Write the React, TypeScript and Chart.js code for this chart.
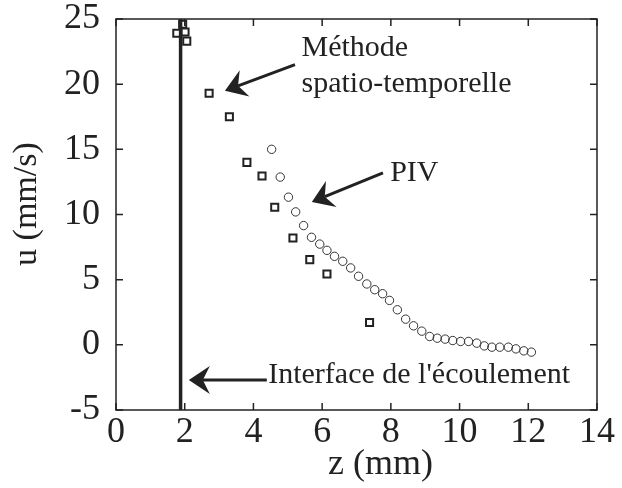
import React, { useEffect, useRef } from "react";
import { Chart, registerables } from "chart.js";

Chart.register(...registerables);

// Spatio-temporal method (squares)
const squaresZ = [1.77, 1.94, 2.01, 2.06, 2.71, 3.3, 3.81, 4.25, 4.62, 5.15, 5.64, 6.14, 7.38];
const squaresU = [23.9, 24.6, 24.0, 23.3, 19.3, 17.5, 14.0, 12.95, 10.56, 8.2, 6.54, 5.44, 1.72];

// PIV (circles)
const circlesZ = [4.53, 4.78, 5.02, 5.23, 5.46, 5.69, 5.93, 6.14, 6.36, 6.6, 6.83, 7.06, 7.3, 7.53, 7.76, 7.96, 8.19, 8.43, 8.66, 8.9, 9.13, 9.35, 9.58, 9.8, 10.03, 10.26, 10.5, 10.72, 10.94, 11.17, 11.42, 11.64, 11.87, 12.09];
const circlesU = [15.0, 12.87, 11.33, 10.2, 9.15, 8.25, 7.73, 7.25, 6.79, 6.41, 5.9, 5.26, 4.67, 4.23, 3.92, 3.41, 2.69, 1.97, 1.46, 1.05, 0.64, 0.51, 0.44, 0.33, 0.26, 0.26, 0.13, -0.08, -0.18, -0.18, -0.18, -0.31, -0.46, -0.56];

// Interface position
const interfaceZ = 1.88;

// Axis ranges / ticks
const xTicks = [0, 2, 4, 6, 8, 10, 12, 14];
const yTicks = [-5, 0, 5, 10, 15, 20, 25];

// Annotations (data coordinates)
const arrows = [
  { from: [5.21, 21.5], to: [3.17, 19.5] },
  { from: [7.77, 13.2], to: [5.7, 10.96] },
  { from: [4.39, -2.7], to: [2.12, -2.7] },
];
const labels = [
  { text: "Méthode", at: [5.4, 22.13] },
  { text: "spatio-temporelle", at: [5.4, 19.4] },
  { text: "PIV", at: [7.98, 12.6] },
  { text: "Interface de l'écoulement", at: [4.43, -2.95] },
];

const SERIF = "'Liberation Serif', 'Times New Roman', serif";
const INK = "#222";

function drawArrow(ctx: CanvasRenderingContext2D, x1: number, y1: number, x2: number, y2: number) {
  const dx = x2 - x1, dy = y2 - y1;
  const len = Math.hypot(dx, dy);
  const ux = dx / len, uy = dy / len;
  const px = -uy, py = ux;
  const L = 21, W = 14, N = 14;
  ctx.save();
  ctx.strokeStyle = INK;
  ctx.fillStyle = INK;
  ctx.lineWidth = 3;
  ctx.beginPath();
  ctx.moveTo(x1, y1);
  ctx.lineTo(x2 - ux * N, y2 - uy * N);
  ctx.stroke();
  ctx.beginPath();
  ctx.moveTo(x2, y2);
  ctx.lineTo(x2 - ux * L + px * W, y2 - uy * L + py * W);
  ctx.lineTo(x2 - ux * N, y2 - uy * N);
  ctx.lineTo(x2 - ux * L - px * W, y2 - uy * L - py * W);
  ctx.closePath();
  ctx.fill();
  ctx.restore();
}

const framePlugin = {
  id: "frame",
  afterDraw(chart: any) {
    const { ctx, chartArea, scales } = chart;
    const { left, right, top, bottom } = chartArea;
    const xs = scales.x, ys = scales.y;
    ctx.save();
    ctx.strokeStyle = INK;
    ctx.lineWidth = 1.5;
    ctx.strokeRect(left, top, right - left, bottom - top);
    const T = 7;
    ctx.beginPath();
    xTicks.forEach((v) => {
      const p = xs.getPixelForValue(v);
      ctx.moveTo(p, bottom);
      ctx.lineTo(p, bottom - T);
      ctx.moveTo(p, top);
      ctx.lineTo(p, top + T);
    });
    yTicks.forEach((v) => {
      const p = ys.getPixelForValue(v);
      ctx.moveTo(left, p);
      ctx.lineTo(left + T, p);
      ctx.moveTo(right, p);
      ctx.lineTo(right - T, p);
    });
    ctx.stroke();

    arrows.forEach((a) => {
      drawArrow(
        ctx,
        xs.getPixelForValue(a.from[0]),
        ys.getPixelForValue(a.from[1]),
        xs.getPixelForValue(a.to[0]),
        ys.getPixelForValue(a.to[1])
      );
    });

    ctx.fillStyle = INK;
    ctx.font = `30px ${SERIF}`;
    ctx.textAlign = "left";
    ctx.textBaseline = "alphabetic";
    labels.forEach((l) => {
      ctx.fillText(l.text, xs.getPixelForValue(l.at[0]), ys.getPixelForValue(l.at[1]));
    });

    // axis titles
    ctx.font = `36px ${SERIF}`;
    ctx.textAlign = "center";
    ctx.textBaseline = "middle";
    ctx.fillText("z (mm)", xs.getPixelForValue(7.7), 465);
    ctx.font = `34px ${SERIF}`;
    ctx.save();
    ctx.translate(27, ys.getPixelForValue(10.8));
    ctx.rotate(-Math.PI / 2);
    ctx.fillText("u (mm/s)", 0, 0);
    ctx.restore();
    ctx.restore();
  },
};

export default function App() {
  const ref = useRef<HTMLCanvasElement | null>(null);
  useEffect(() => {
    document.body.style.margin = "0";
    const canvas = ref.current!;
    const chart = new Chart(canvas, {
      type: "scatter",
      data: {
        datasets: [
          {
            label: "Interface",
            data: [
              { x: interfaceZ, y: -5 },
              { x: interfaceZ, y: 25 },
            ],
            showLine: true,
            borderColor: INK,
            borderWidth: 3.5,
            pointRadius: 0,
          },
          {
            label: "Méthode spatio-temporelle",
            data: squaresZ.map((z, i) => ({ x: z, y: squaresU[i] })),
            pointStyle: "rect",
            pointRadius: 5,
            borderColor: INK,
            borderWidth: 2,
            backgroundColor: "rgba(255,255,255,0)",
          },
          {
            label: "PIV",
            data: circlesZ.map((z, i) => ({ x: z, y: circlesU[i] })),
            pointStyle: "circle",
            pointRadius: 4.2,
            borderColor: "#333",
            borderWidth: 1,
            backgroundColor: "rgba(255,255,255,0)",
          },
        ],
      },
      options: {
        responsive: false,
        animation: false,
        layout: { padding: { top: 19, right: 25, left: 0, bottom: 0 } },
        plugins: { legend: { display: false }, tooltip: { enabled: false } },
        scales: {
          x: {
            type: "linear",
            min: 0,
            max: 14,
            afterFit: (s: any) => {
              s.height = 78;
              s.paddingLeft = 0;
              s.paddingRight = 0;
            },
            afterBuildTicks: (s: any) => {
              s.ticks = xTicks.map((v) => ({ value: v }));
            },
            grid: { display: false, drawTicks: false },
            border: { display: false },
            ticks: {
              color: INK,
              padding: 1,
              maxRotation: 0,
              autoSkip: false,
              font: { family: SERIF, size: 36 },
            },
          },
          y: {
            type: "linear",
            min: -5,
            max: 25,
            afterFit: (s: any) => {
              s.width = 116;
              s.paddingTop = 0;
              s.paddingBottom = 0;
            },
            afterBuildTicks: (s: any) => {
              s.ticks = yTicks.map((v) => ({ value: v }));
            },
            grid: { display: false, drawTicks: false },
            border: { display: false },
            ticks: {
              color: INK,
              padding: 16,
              autoSkip: false,
              font: { family: SERIF, size: 36 },
            },
          },
        },
      },
      plugins: [framePlugin],
    });
    return () => chart.destroy();
  }, []);
  return <canvas ref={ref} width={622} height={488} />;
}
